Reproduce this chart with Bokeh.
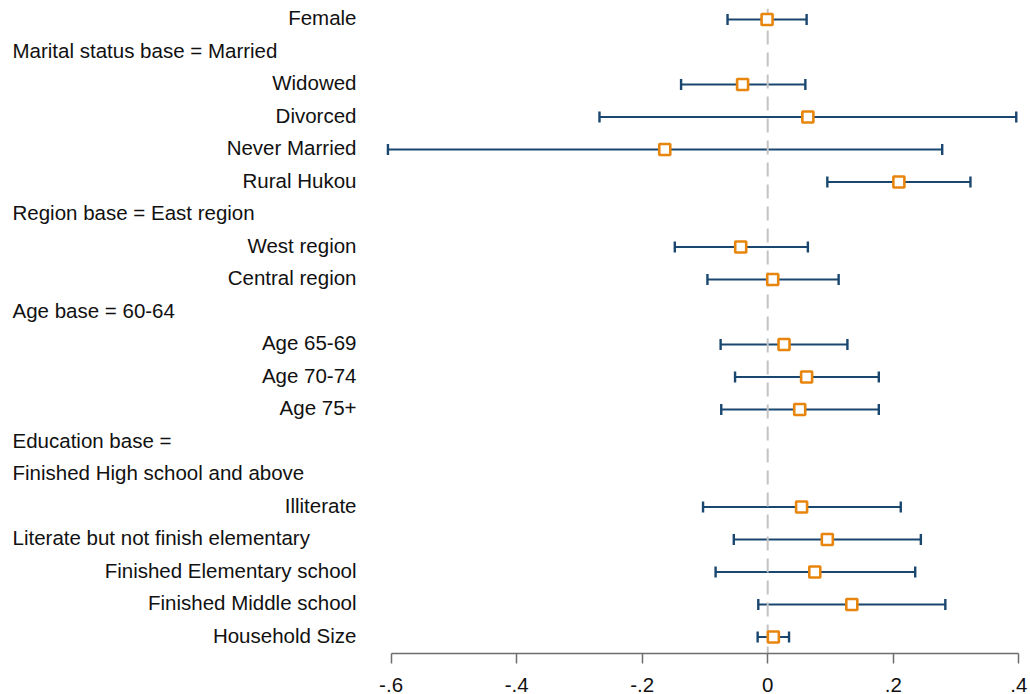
import math
from bokeh.plotting import figure
from bokeh.models import Range1d, FixedTicker, ColumnDataSource
from bokeh.core.properties import value
from bokeh.embed import file_html
from bokeh.resources import INLINE

# ---------------- data ----------------
row_labels = [
    "Female",
    "Marital status base = Married",
    "Widowed",
    "Divorced",
    "Never Married",
    "Rural Hukou",
    "Region base = East region",
    "West region",
    "Central region",
    "Age base = 60-64",
    "Age 65-69",
    "Age 70-74",
    "Age 75+",
    "Education base =",
    "Finished High school and above",
    "Illiterate",
    "Literate but not finish elementary",
    "Finished Elementary school",
    "Finished Middle school",
    "Household Size",
]
header_rows = [
    "Marital status base = Married",
    "Region base = East region",
    "Age base = 60-64",
    "Education base =",
    "Finished High school and above",
]
long_rows = ["Literate but not finish elementary"]

variables = [
    "Female", "Widowed", "Divorced", "Never Married", "Rural Hukou",
    "West region", "Central region", "Age 65-69", "Age 70-74", "Age 75+",
    "Illiterate", "Literate but not finish elementary",
    "Finished Elementary school", "Finished Middle school", "Household Size",
]
coef = [-0.001, -0.040, 0.064, -0.164, 0.209,
        -0.043, 0.008, 0.026, 0.062, 0.051,
        0.054, 0.095, 0.075, 0.134, 0.009]
ci_low = [-0.064, -0.138, -0.268, -0.605, 0.095,
          -0.148, -0.096, -0.075, -0.052, -0.074,
          -0.103, -0.054, -0.083, -0.015, -0.016]
ci_high = [0.062, 0.060, 0.396, 0.278, 0.323,
           0.064, 0.113, 0.127, 0.177, 0.177,
           0.212, 0.244, 0.235, 0.283, 0.034]

tick_values = [-0.6, -0.4, -0.2, 0.0, 0.2, 0.4]
tick_labels = ["-.6", "-.4", "-.2", "0", ".2", ".4"]

# ---------------- layout ----------------
FONT = "Liberation Sans"
FS = "20.5px"
NAVY = "#1a476f"
ORANGE = "#e8850c"

PAGE = 8                 # frame origin (page px)
ZERO_PX = 767.2          # page x of value 0
PX_PER_UNIT = 627.7      # pixels per unit of x
FRAME_W = 1011
ROW0_PX = 19.0           # page y of first row
ROW_STEP = 32.5
FRAME_H = 645

def px_to_x(px):
    return (px - ZERO_PX) / PX_PER_UNIT

def py_to_row(py):
    return (py - ROW0_PX) / ROW_STEP

x_start = px_to_x(PAGE)
x_end = px_to_x(PAGE + FRAME_W)
y_top = py_to_row(PAGE)
y_bottom = py_to_row(PAGE + FRAME_H)

p = figure(
    frame_width=FRAME_W, frame_height=FRAME_H,
    x_range=Range1d(x_start, x_end),
    y_range=Range1d(y_bottom, y_top),
    y_axis_location=None,
    toolbar_location=None,
    output_backend="svg",
    min_border_left=PAGE, min_border_top=PAGE, min_border_right=10,
)
p.outline_line_color = None
p.grid.visible = False
p.background_fill_color = "white"
p.border_fill_color = "white"

row_index = {lab: i for i, lab in enumerate(row_labels)}
var_rows = [row_index[v] for v in variables]

src = ColumnDataSource(dict(
    y=var_rows, coef=coef, lo=ci_low, hi=ci_high,
))

p.segment(x0="lo", x1="hi", y0="y", y1="y", source=src,
          line_color=NAVY, line_width=2.2)
p.scatter(x="lo", y="y", source=src, marker="dash", angle=math.pi / 2,
          size=11, line_color=NAVY, line_width=2.4)
p.scatter(x="hi", y="y", source=src, marker="dash", angle=math.pi / 2,
          size=11, line_color=NAVY, line_width=2.4)

# zero reference line
p.segment(x0=[0], x1=[0], y0=[y_top], y1=[y_bottom],
          line_color="#c3c3c3", line_width=2, line_dash="14 8")

p.scatter(x="coef", y="y", source=src, marker="square", size=11,
          fill_color="white", line_color=ORANGE, line_width=2.6)

# row labels
head_x, head_y, head_t = [], [], []
var_x, var_y, var_t = [], [], []
for i, lab in enumerate(row_labels):
    if lab in header_rows or lab in long_rows:
        head_y.append(i); head_t.append(lab); head_x.append(px_to_x(12))
    else:
        var_y.append(i); var_t.append(lab); var_x.append(px_to_x(356))

p.text(x=head_x, y=head_y, text=head_t, text_font=value(FONT),
       text_font_size=FS, text_align="left", text_baseline="middle",
       text_color="#111111", y_offset=-2)
p.text(x=var_x, y=var_y, text=var_t, text_font=value(FONT),
       text_font_size=FS, text_align="right", text_baseline="middle",
       text_color="#111111", y_offset=-2)

# x axis
ax = p.xaxis[0]
ax.bounds = (-0.6, 0.4)
ax.ticker = FixedTicker(ticks=tick_values)
ax.major_label_overrides = {v: t for v, t in zip(tick_values, tick_labels)}
ax.minor_tick_line_color = None
ax.axis_line_color = "#6e6e6e"
ax.axis_line_width = 1.5
ax.major_tick_line_color = "#6e6e6e"
ax.major_tick_line_width = 1.5
ax.major_tick_in = 0
ax.major_tick_out = 10
ax.major_label_standoff = 14
ax.major_label_text_font = FONT
ax.major_label_text_font_size = FS
ax.major_label_text_color = "#111111"

html = file_html(p, INLINE)
html = html.replace("<head>", "<head><style>html,body{overflow:hidden}</style>", 1)
open("out.html", "w").write(html)
